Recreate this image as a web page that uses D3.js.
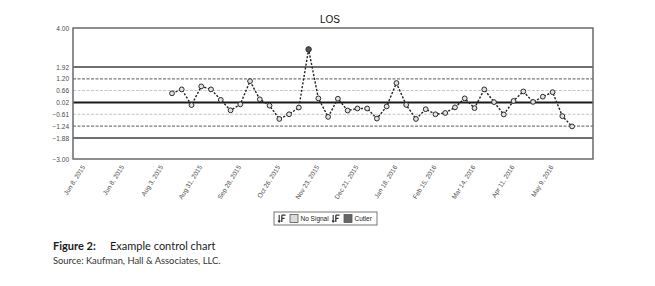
<!DOCTYPE html>
<html>
<head>
<meta charset="utf-8">
<script src="https://cdn.jsdelivr.net/npm/d3@7"></script>
<style>
  html, body { margin: 0; padding: 0; background: #fff; }
  svg { display: block; }
</style>
</head>
<body>
<svg id="chart" width="655" height="286"></svg>
<script>
// ---- data ----
const title = "LOS";
const weekDates = [
  "2015-08-10","2015-08-17","2015-08-24","2015-08-31","2015-09-07","2015-09-14","2015-09-21","2015-09-28",
  "2015-10-05","2015-10-12","2015-10-19","2015-10-26","2015-11-02","2015-11-09","2015-11-16","2015-11-23",
  "2015-11-30","2015-12-07","2015-12-14","2015-12-21","2015-12-28","2016-01-04","2016-01-11","2016-01-18",
  "2016-01-25","2016-02-01","2016-02-08","2016-02-15","2016-02-22","2016-02-29","2016-03-07","2016-03-14",
  "2016-03-21","2016-03-28","2016-04-04","2016-04-11","2016-04-18","2016-04-25","2016-05-02","2016-05-09",
  "2016-05-16","2016-05-23"
];
const losValues = [
  0.51, 0.72, -0.12, 0.88, 0.72, 0.16, -0.40, -0.08, 1.16, 0.19, -0.15, -0.86, -0.61, -0.25, 2.86, 0.24,
  -0.75, 0.22, -0.41, -0.30, -0.30, -0.84, -0.19, 1.06, -0.11, -0.86, -0.34, -0.61, -0.54, -0.24, 0.24, -0.28,
  0.72, 0.04, -0.62, 0.10, 0.61, 0.05, 0.33, 0.57, -0.71, -1.26
];
const signals = weekDates.map((d, i) => i === 14 ? "Cutler" : "No Signal");

const yTickValues = [4.00, 1.92, 1.28, 0.66, 0.02, -0.61, -1.24, -1.88, -3.00];
const yTickLabels = ["4.00", "1.92", "1.20", "0.66", "0.02", "\u22120.61", "\u22121.24", "\u22121.88", "\u22123.00"];

const centerLine = 0.02;
const sigma3 = [1.92, -1.88];
const sigma2 = [1.28, -1.24];
const sigma1 = [0.66, -0.61];

const xTickDates = ["2015-06-08","2015-07-06","2015-08-03","2015-08-31","2015-09-28","2015-10-26","2015-11-23",
                    "2015-12-21","2016-01-18","2016-02-15","2016-03-14","2016-04-11","2016-05-09"];
const xTickLabels = ["Jun 8, 2015","Jun 8, 2015","Aug 3, 2015","Aug 31, 2015","Sep 28, 2015","Oct 26, 2015","Nov 23, 2015",
                     "Dec 21, 2015","Jan 18, 2016","Feb 15, 2016","Mar 14, 2016","Apr 11, 2016","May 9, 2016"];

const legendItems = ["No Signal", "Cutler"];
const captionBold = "Figure 2:";
const captionText = "Example control chart";
const sourceText = "Source: Kaufman, Hall & Associates, LLC.";

// ---- layout ----
const svg = d3.select("#chart");
const plot = { left: 73, right: 593, top: 28, bottom: 159 };
const parse = d3.utcParse("%Y-%m-%d");

const x = d3.scaleUtc()
  .domain([parse("2015-05-31"), parse("2016-06-07")])
  .range([plot.left, plot.right]);
const y = d3.scaleLinear().domain([-3, 4]).range([plot.bottom, plot.top]);

const data = weekDates.map((d, i) => ({ date: parse(d), v: losValues[i], s: signals[i] }));

// title
svg.append("text")
  .attr("x", (plot.left + plot.right) / 2 - 3).attr("y", 23)
  .attr("text-anchor", "middle")
  .attr("font-family", "Liberation Sans, Arial, sans-serif")
  .attr("font-size", 10).attr("fill", "#111")
  .text(title);

// reference lines
function hline(v, color, width, dash) {
  svg.append("line")
    .attr("x1", plot.left).attr("x2", plot.right)
    .attr("y1", y(v)).attr("y2", y(v))
    .attr("stroke", color).attr("stroke-width", width)
    .attr("stroke-dasharray", dash || null);
}
sigma1.forEach(v => hline(v, "#c4c4c4", 1, "3,1.5"));
sigma2.forEach(v => hline(v, "#7a7a7a", 1.3, "3,1.5"));
sigma3.forEach(v => hline(v, "#707070", 2));
hline(centerLine, "#1a1a1a", 2);

// border
svg.append("rect")
  .attr("x", plot.left).attr("y", plot.top)
  .attr("width", plot.right - plot.left).attr("height", plot.bottom - plot.top)
  .attr("fill", "none").attr("stroke", "#6a6a6a").attr("stroke-width", 1.5);

// y axis
const yAxis = d3.axisLeft(y).tickValues(yTickValues).tickSize(0).tickPadding(4)
  .tickFormat((d, i) => yTickLabels[i]);
const gy = svg.append("g").attr("transform", `translate(${plot.left},0)`).call(yAxis);
gy.select(".domain").remove();
gy.selectAll("text").attr("font-family", "Liberation Sans, Arial, sans-serif")
  .attr("font-size", 6.5).attr("fill", "#4a4a4a");

// x axis
const xAxis = d3.axisBottom(x).tickValues(xTickDates.map(parse)).tickSize(0).tickPadding(0)
  .tickFormat((d, i) => xTickLabels[i]);
const gx = svg.append("g").attr("transform", `translate(0,${plot.bottom})`).call(xAxis);
gx.select(".domain").remove();
gx.selectAll("text")
  .attr("font-family", "Liberation Sans, Arial, sans-serif")
  .attr("font-size", 6.5).attr("fill", "#4a4a4a")
  .attr("text-anchor", "end")
  .attr("dy", "0.3em")
  .attr("transform", "translate(-1,7) rotate(-58)");

// data line
const line = d3.line().x(d => x(d.date)).y(d => y(d.v));
svg.append("path").datum(data)
  .attr("d", line).attr("fill", "none")
  .attr("stroke", "#222").attr("stroke-width", 1.4)
  .attr("stroke-dasharray", "2.2,1.6");

// points
svg.append("g").selectAll("circle").data(data).join("circle")
  .attr("cx", d => x(d.date)).attr("cy", d => y(d.v))
  .attr("r", d => d.s === "Cutler" ? 2.7 : 2.4)
  .attr("fill", d => d.s === "Cutler" ? "#555" : "#e2e2e2")
  .attr("stroke", "#2a2a2a").attr("stroke-width", 1);

// legend
const lg = svg.append("g").attr("transform", "translate(274,212)");
lg.append("rect").attr("x", 0).attr("y", 0).attr("width", 103).attr("height", 13)
  .attr("fill", "#fff").attr("stroke", "#777").attr("stroke-width", 1);
const legendSwatch = { "No Signal": "#dcdcdc", "Cutler": "#666" };
const legendX = [4, 58];
legendItems.forEach((name, i) => {
  const g = lg.append("g").attr("transform", `translate(${legendX[i]},0)`);
  // sort icon: arrow + bars
  g.append("path").attr("d", "M1.2,3 V10 M0,8.6 L1.2,10.2 L2.4,8.6")
    .attr("fill", "none").attr("stroke", "#333").attr("stroke-width", 1.1);
  g.append("path").attr("d", "M3.8,3.2 H7.6 M3.8,3.2 V10 M3.8,6.4 H6.6")
    .attr("fill", "none").attr("stroke", "#333").attr("stroke-width", 1.3);
  g.append("rect").attr("x", 12).attr("y", 2.5).attr("width", 8).attr("height", 8)
    .attr("fill", legendSwatch[name]).attr("stroke", "#555").attr("stroke-width", 0.8);
  g.append("text").attr("x", 22.5).attr("y", 9.2)
    .attr("font-family", "Liberation Sans, Arial, sans-serif")
    .attr("font-size", 6.5).attr("fill", "#222").text(name);
});

// caption
const cap = svg.append("text").attr("x", 53).attr("y", 250)
  .attr("font-family", "Lato, sans-serif").attr("font-size", 11).attr("fill", "#1a1a1a");
cap.append("tspan").attr("font-weight", "bold").text(captionBold);
cap.append("tspan").attr("x", 110).text(captionText);
svg.append("text").attr("x", 53).attr("y", 264)
  .attr("font-family", "Lato, sans-serif").attr("font-size", 9.4).attr("fill", "#333")
  .text(sourceText);
</script>
</body>
</html>
